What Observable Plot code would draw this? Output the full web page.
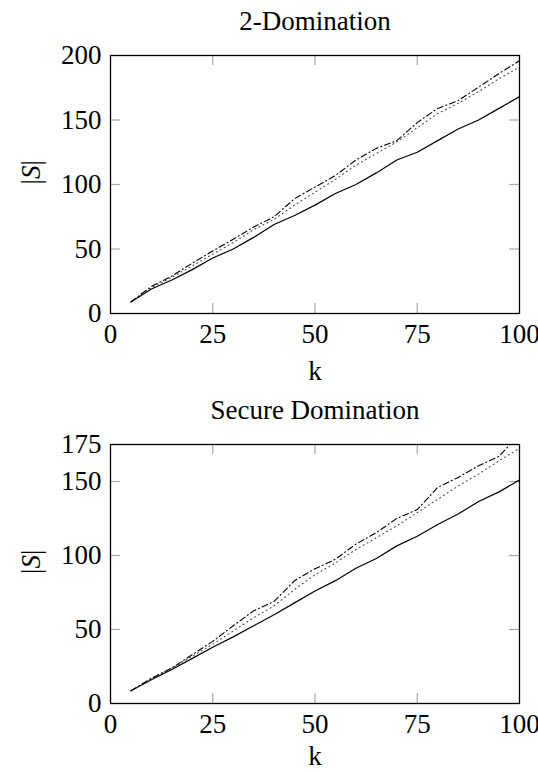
<!DOCTYPE html>
<html>
<head>
<meta charset="utf-8">
<script src="https://cdn.jsdelivr.net/npm/d3@7"></script>
<script src="https://cdn.jsdelivr.net/npm/@observablehq/plot@0.6"></script>
<style>
  html, body { margin: 0; padding: 0; background: #fff; overflow: hidden; }
  svg { display: block; }
</style>
</head>
<body>
<div id="chart"></div>
<script>
// ---- data ----
const kValues = [5,10,15,20,25,30,35,40,45,50,55,60,65,70,75,80,85,90,95,100];

// 2-Domination
const twoDomSolid   = [9,19,26,34,43,50,59,69,76,84,93,100,109,119,125,134,143,150,159,168];
const twoDomDotted  = [9,20,28,37,46,55,65,73,84,94,104,115,124,133,144,155,163,172,182,191];
const twoDomDashDot = [9,21,29,39,48.5,57.5,67,75,89,98,107,119,128,134,148,159,165,175.5,186,196];

// Secure Domination
const secDomSolid   = [8.6,16,23,30.5,38,45,52.5,60,68,76,83,91.4,98,106.5,113,121,128,136.5,143,151];
const secDomDotted  = [8.6,17,24,32,40,49,58,66,77,87,95,104,112,120,129,138,147,155,164,172.5];
const secDomDashDot = [8.6,17,24,33,42,52.5,62.6,69,83,91,97.5,107.7,115.5,125,131,146,152.7,160.6,167,182];

const xTickLabels = [0,25,50,75,100];
const twoDomYTicks = [0,50,100,150,200];
const secDomYTicks = [0,50,100,150,175];

const titles = ["2-Domination", "Secure Domination"];
const xLabel = "k";
const yLabel = "|S|";

// ---- drawing ----
const FONT = "'Liberation Serif', 'Times New Roman', serif";
const FS = 27;
const W = 538;

function rows(vals, style) {
  return kValues.map((k, i) => ({k, v: vals[i], style}));
}

function makePlot({title, yMax, yTicks, solid, dotted, dashdot, marginTop, marginBottom, height, xLabelDy}) {
  const marginLeft = 110, marginRight = 19;
  const fw = W - marginLeft - marginRight;
  const fh = height - marginTop - marginBottom;
  const xInner = xTickLabels.filter(d => d > 0 && d < 100);
  const yInner = yTicks.filter(d => d > 0 && d < yMax);
  const tickLen = 10;
  const tickColor = "#a8a8a8";
  const svg = Plot.plot({
    width: W, height, marginLeft, marginRight, marginTop, marginBottom,
    style: {fontFamily: FONT, fontSize: FS + "px", background: "#fff", color: "#000"},
    x: {domain: [0, 100], axis: null},
    y: {domain: [0, yMax], axis: null},
    marks: [
      // inward tick marks
      Plot.tickX(xInner, {x: d => d, stroke: tickColor, strokeWidth: 1.2, insetTop: fh - tickLen}),
      Plot.tickX(xInner, {x: d => d, stroke: tickColor, strokeWidth: 1.2, insetBottom: fh - tickLen}),
      Plot.tickY(yInner, {y: d => d, stroke: tickColor, strokeWidth: 1.2, insetRight: fw - tickLen}),
      Plot.tickY(yInner, {y: d => d, stroke: tickColor, strokeWidth: 1.2, insetLeft: fw - tickLen}),
      // data lines
      Plot.line(rows(solid, "solid"), {x: "k", y: "v", stroke: "#000", strokeWidth: 1.2, clip: true}),
      Plot.line(rows(dotted, "dotted"), {x: "k", y: "v", stroke: "#444", strokeWidth: 1.1, strokeDasharray: "0.9,3.6", clip: true}),
      Plot.line(rows(dashdot, "dashdot"), {x: "k", y: "v", stroke: "#000", strokeWidth: 1.1, strokeDasharray: "6,3,1,3", clip: true}),
      Plot.frame({stroke: "#000", strokeWidth: 1.3}),
      // tick labels
      Plot.axisX(xTickLabels, {tickSize: 0, tickPadding: 10, fontSize: FS, tickFormat: d => String(d), fill: "#000", label: null}),
      Plot.axisY(yTicks, {tickSize: 0, tickPadding: 9, fontSize: FS, tickFormat: d => String(d), fill: "#000", label: null}),
      // title and axis labels
      Plot.text([title], {frameAnchor: "top", lineAnchor: "middle", dy: -34, text: d => d, fontSize: FS, fill: "#000"}),
      Plot.text([xLabel], {frameAnchor: "bottom", lineAnchor: "middle", dy: xLabelDy, text: d => d, fontSize: FS, fill: "#000"}),
      Plot.text([yLabel], {frameAnchor: "left", lineAnchor: "middle", dx: -79, rotate: -90, text: d => d, fontSize: FS, fill: "#000"})
    ]
  });
  // italic S in |S|
  d3.select(svg).selectAll("text").filter(function() { return this.textContent === yLabel; })
    .each(function() {
      const t = d3.select(this);
      t.text(null);
      t.append("tspan").text("|");
      t.append("tspan").attr("font-style", "italic").text("S");
      t.append("tspan").text("|");
    });
  return svg;
}

const chart = document.getElementById("chart");
chart.appendChild(makePlot({
  title: titles[0], yMax: 200, yTicks: twoDomYTicks,
  solid: twoDomSolid, dotted: twoDomDotted, dashdot: twoDomDashDot,
  marginTop: 55, marginBottom: 73, height: 386, xLabelDy: 58
}));
chart.appendChild(makePlot({
  title: titles[1], yMax: 175, yTicks: secDomYTicks,
  solid: secDomSolid, dotted: secDomDotted, dashdot: secDomDashDot,
  marginTop: 58, marginBottom: 69, height: 386, xLabelDy: 53
}));
</script>
</body>
</html>
